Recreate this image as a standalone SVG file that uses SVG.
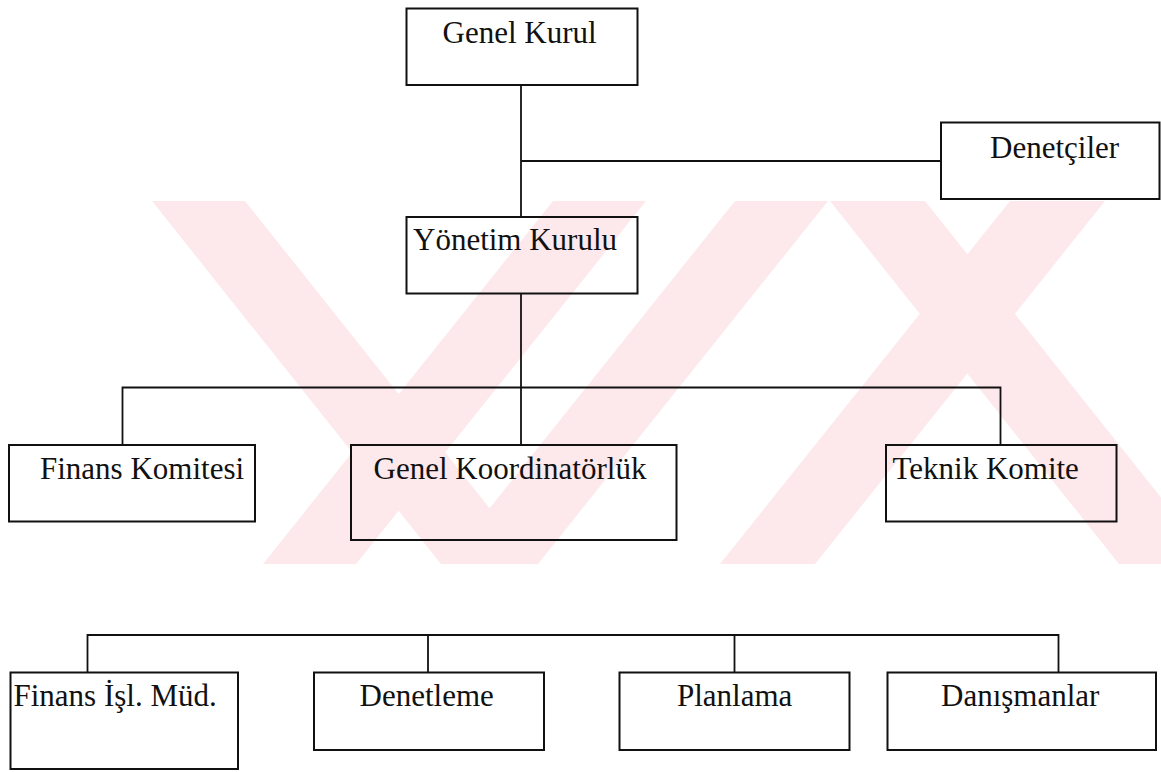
<svg xmlns="http://www.w3.org/2000/svg" width="1161" height="772" viewBox="0 0 1161 772">
<style>
.box{fill:none;stroke:#111;stroke-width:2}
.ln{fill:none;stroke:#111;stroke-width:1.8}
.lbl{font-family:"Liberation Serif","Times New Roman",serif;font-size:31px;fill:#111}
.wm{fill:#fde8ec}
</style>
<rect width="1161" height="772" fill="#ffffff"/>
<g id="watermark">
<polygon class="wm" points="152,201 245,201 534,564 441,564"/>
<polygon class="wm" points="553,201 646,201 356,564 263,564"/>
<polygon class="wm" points="735,201 828,201 538,564 445,564"/>
<polygon class="wm" points="830,201 925,201 1214,564 1119,564"/>
<polygon class="wm" points="1010,201 1105,201 815,564 720,564"/>
</g>
<g id="connectors">
<polyline class="ln" points="521,85 521,217"/>
<polyline class="ln" points="521,161 941,161"/>
<polyline class="ln" points="521,293 521,445"/>
<polyline class="ln" points="122.5,445 122.5,387.5 1000.5,387.5 1000.5,445"/>
<polyline class="ln" points="87.5,672 87.5,635 1058.5,635 1058.5,672"/>
<polyline class="ln" points="428,635 428,672"/>
<polyline class="ln" points="734.5,635 734.5,672"/>
</g>
<g id="genel-kurul">
<rect class="box" x="406.5" y="8.5" width="231" height="76.5"/>
<text class="lbl" x="442.5" y="42.5">Genel Kurul</text>
</g>
<g id="denetciler">
<rect class="box" x="941" y="122.5" width="218.5" height="76.5"/>
<text class="lbl" x="990" y="158">Denetçiler</text>
</g>
<g id="yonetim-kurulu">
<rect class="box" x="406.5" y="217" width="231" height="76.5"/>
<text class="lbl" x="413" y="250">Yönetim Kurulu</text>
</g>
<g id="finans-komitesi">
<rect class="box" x="9" y="445" width="246" height="76.5"/>
<text class="lbl" x="40" y="479">Finans Komitesi</text>
</g>
<g id="genel-koordinatorluk">
<rect class="box" x="351" y="445" width="325.5" height="95"/>
<text class="lbl" x="373.5" y="479">Genel Koordinatörlük</text>
</g>
<g id="teknik-komite">
<rect class="box" x="886" y="445" width="230.5" height="76.5"/>
<text class="lbl" x="892.5" y="479">Teknik Komite</text>
</g>
<g id="finans-isl-mud">
<rect class="box" x="10.5" y="672.5" width="227.5" height="96.5"/>
<text class="lbl" x="13.5" y="705.5">Finans İşl. Müd.</text>
</g>
<g id="denetleme">
<rect class="box" x="314" y="672.5" width="230" height="77.5"/>
<text class="lbl" x="359.5" y="705.5">Denetleme</text>
</g>
<g id="planlama">
<rect class="box" x="619.5" y="672.5" width="230" height="77.5"/>
<text class="lbl" x="677" y="705.5">Planlama</text>
</g>
<g id="danismanlar">
<rect class="box" x="887.5" y="672.5" width="268.5" height="77.5"/>
<text class="lbl" x="941" y="705.5">Danışmanlar</text>
</g>
</svg>
